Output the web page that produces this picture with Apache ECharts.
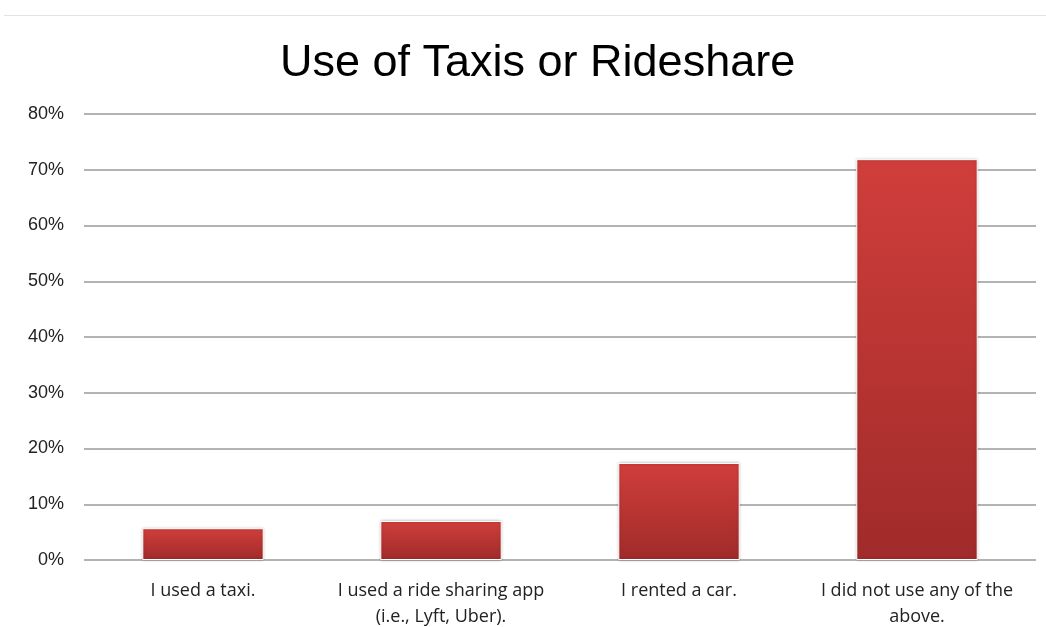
<!DOCTYPE html>
<html>
<head>
<meta charset="utf-8">
<style>
  html, body { margin: 0; padding: 0; background: #fff; }
  #chart { width: 1046px; height: 627px; }
  #frame { position: absolute; left: 4px; right: 0; top: 15px; border-top: 1px solid #e2e2e2; }
</style>
<script src="https://cdn.jsdelivr.net/npm/echarts@6/dist/echarts.min.js"></script>
</head>
<body>
<div id="frame"></div>
<div id="chart"></div>
<script>
const categories = [
  'I used a taxi.',
  'I used a ride sharing app\n(i.e., Lyft, Uber).',
  'I rented a car.',
  'I did not use any of the\nabove.'
]
const shares = [5.7, 7.0, 17.4, 71.9]
const yTicks = [0, 10, 20, 30, 40, 50, 60, 70, 80]

const chart = echarts.init(document.getElementById('chart'))

chart.setOption({
  animation: false,
  title: {
    text: 'Use of Taxis or Rideshare',
    left: 275,
    top: 36,
    textStyle: { fontFamily: 'Liberation Sans', fontSize: 45, fontWeight: 'normal', color: '#000' }
  },
  grid: { left: 84, right: 10, top: 114, bottom: 67, outerBoundsMode: 'none' },
  xAxis: {
    type: 'category',
    data: categories,
    axisLine: { show: false },
    axisTick: { show: false },
    axisLabel: {
      interval: 0,
      margin: 18,
      fontFamily: 'Open Sans',
      fontSize: 18,
      color: '#222',
      lineHeight: 26
    }
  },
  yAxis: {
    type: 'value',
    min: yTicks[0],
    max: yTicks[yTicks.length - 1],
    interval: 10,
    axisLabel: {
      formatter: '{value}%',
      margin: 20,
      fontFamily: 'Liberation Sans',
      fontSize: 18,
      color: '#222'
    },
    splitLine: { lineStyle: { color: '#b3b3b3', width: 2 } }
  },
  series: [{
    type: 'bar',
    data: shares,
    barWidth: '51%',
    itemStyle: {
      color: new echarts.graphic.LinearGradient(0, 0, 0, 1, [
        { offset: 0, color: '#d03e3b' },
        { offset: 1, color: '#a02b2a' }
      ]),
      borderColor: '#ffffff',
      borderWidth: 1,
      shadowColor: 'rgba(0,0,0,0.25)',
      shadowBlur: 3
    }
  }]
})
</script>
</body>
</html>
